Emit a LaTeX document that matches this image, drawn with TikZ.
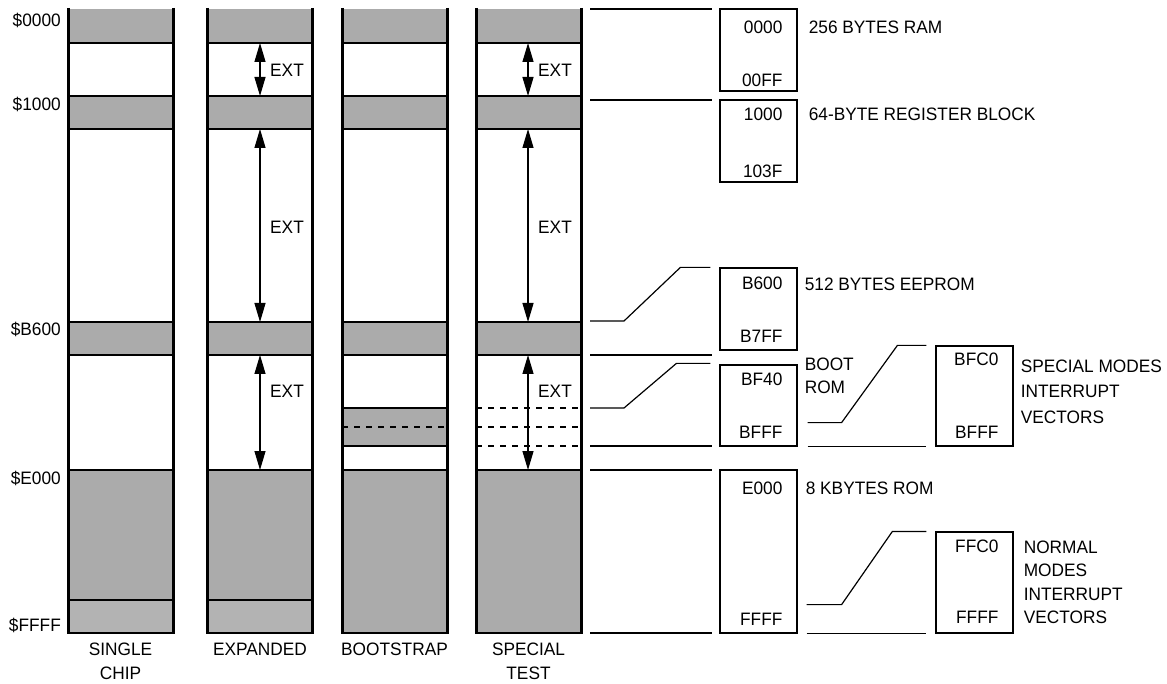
\documentclass[tikz,border=0pt]{standalone}
\usepackage{fontspec}
\setmainfont[FakeStretch=0.96]{Liberation Sans}
\usetikzlibrary{arrows.meta,positioning,calc}
\definecolor{bandGray}{HTML}{ABABAB}
\definecolor{vecGray}{HTML}{B3B3B3}
\newcommand{\memfont}{\fontsize{18}{23.5}\selectfont}
\newcommand{\memfontwide}{\fontsize{18}{25.5}\selectfont}
\tikzset{
  bandLine/.style={line width=1.4pt},
  colWall/.style={line width=3pt},
  dashLine/.style={line width=1.2pt, dash pattern=on 6pt off 6pt},
  extArrow/.style={{Triangle[length=19pt,width=11pt]}-{Triangle[length=19pt,width=11pt]}, line width=1.2pt},
  leaderLine/.style={line width=1.2pt},
  memBox/.style={draw, line width=1.2pt, minimum width=77pt, inner sep=0pt},
  memText/.style={inner sep=0pt, font=\memfont},
  descText/.style={memText, align=left},
}

\begin{document}
\begin{tikzpicture}[x=1pt, y=-1pt]
  \useasboundingbox (0,0) rectangle (1167,684);

  % gray bands of the four memory maps
  \foreach \xl in {68,207,342,476} {
    \foreach \ya/\yb in {9/43,96/129,322/355,470/633}
      \fill[bandGray] (\xl,\ya) rectangle (\xl+105,\yb);
  }
  % vectors band (single chip, expanded)
  \foreach \xl in {68,207} {
    \fill[vecGray] (\xl,600) rectangle (\xl+105,633);
    \draw[bandLine] (\xl,600) -- (\xl+105,600);
  }
  % boot rom (bootstrap) and its ghost (special test)
  \fill[bandGray] (342,408) rectangle (447,446);
  \draw[bandLine] (342,408) -- (447,408) (342,446) -- (447,446);
  \draw[dashLine] (342,427) -- (447,427);
  \foreach \y in {408,427,446}
    \draw[dashLine] (476,\y) -- (581,\y);
  \foreach \xl in {68,207,342,476} {
    \foreach \y in {43,96,129,322,355,470,633}
      \draw[bandLine] (\xl,\y) -- (\xl+105,\y);
    \draw[colWall] (\xl,8) -- (\xl,634) (\xl+105,8) -- (\xl+105,634);
  }

  % external space arrows
  \foreach \xa/\m in {260/exp,528/spec} {
    \draw[extArrow] (\xa,43) -- (\xa,96);
    \draw[extArrow] (\xa,129) -- (\xa,322);
    \draw[extArrow] (\xa,355) -- (\xa,470);
    \node[memText, anchor=west] (ext-\m-a) at (\xa+10,70) {EXT};
    \node[memText, anchor=west] (ext-\m-b) at (\xa+10,227) {EXT};
    \node[memText, anchor=west] (ext-\m-c) at (\xa+10,391) {EXT};
  }

  % addresses and mode names
  \foreach \y/\a in {20/0000,104/1000,329/B600,478/E000,625/FFFF}
    \node[memText, anchor=east] (addr-\a) at (61,\y) {\$\a};
  \node[memText, anchor=north, align=center] (modeSingle) at (120.5,643) {SINGLE\\CHIP};
  \node[memText, anchor=north] (modeExpanded) at (260,643) {EXPANDED};
  \node[memText, anchor=north] (modeBoot) at (394.5,643) {BOOTSTRAP};
  \node[memText, anchor=north, align=center] (modeSpecial) at (528.5,643) {SPECIAL\\TEST};

  % resource boxes
  \node[memBox, minimum height=82pt] (ram) at (758.5,50) {};
  \node[memBox, minimum height=82pt] (reg) at (758.5,141) {};
  \node[memBox, minimum height=82pt] (eeprom) at (758.5,309) {};
  \node[memBox, minimum height=81pt] (bootrom) at (758.5,405.5) {};
  \node[memBox, minimum height=163pt] (rom) at (758.5,551.5) {};
  \node[memBox, minimum height=100pt] (specvec) at (974.5,396) {};
  \node[memBox, minimum height=101pt] (normvec) at (974.5,582.5) {};

  \node[memText, below left=12pt and 15pt of ram.north east] (ram-lo) {0000};
  \node[memText, above left=5pt and 15pt of ram.south east] (ram-hi) {00FF};
  \node[memText, below left=8pt and 15pt of reg.north east] (reg-lo) {1000};
  \node[memText, above left=5pt and 15pt of reg.south east] (reg-hi) {103F};
  \node[memText, below left=9pt and 15pt of eeprom.north east] (eeprom-lo) {B600};
  \node[memText, above left=8pt and 15pt of eeprom.south east] (eeprom-hi) {B7FF};
  \node[memText, below left=8pt and 15pt of bootrom.north east] (bootrom-lo) {BF40};
  \node[memText, above left=8pt and 15pt of bootrom.south east] (bootrom-hi) {BFFF};
  \node[memText, below left=12pt and 15pt of rom.north east] (rom-lo) {E000};
  \node[memText, above left=8pt and 15pt of rom.south east] (rom-hi) {FFFF};
  \node[memText, below left=7pt and 15pt of specvec.north east] (specvec-lo) {BFC0};
  \node[memText, above left=8pt and 15pt of specvec.south east] (specvec-hi) {BFFF};
  \node[memText, below left=8pt and 15pt of normvec.north east] (normvec-lo) {FFC0};
  \node[memText, above left=10pt and 15pt of normvec.south east] (normvec-hi) {FFFF};

  \node[descText, below right=12pt and 11pt of ram.north east] (ram-desc) {256 BYTES RAM};
  \node[descText, below right=8pt and 11pt of reg.north east] (reg-desc) {64-BYTE REGISTER BLOCK};
  \node[descText, below right=10pt and 7pt of eeprom.north east] (eeprom-desc) {512 BYTES EEPROM};
  \node[descText, below right=-7pt and 7pt of bootrom.north east] (bootrom-desc) {BOOT\\ROM};
  \node[descText, below right=12pt and 8pt of rom.north east] (rom-desc) {8 KBYTES ROM};
  \node[descText, font=\memfontwide, below right=14pt and 7pt of specvec.north east] (specvec-desc) {SPECIAL MODES\\INTERRUPT\\VECTORS};
  \node[descText, below right=9pt and 10pt of normvec.north east] (normvec-desc) {NORMAL\\MODES\\INTERRUPT\\VECTORS};

  % leader lines from the special test map
  \coordinate (gap) at (712,0);
  \coordinate (lead-0000) at (590,9);
  \coordinate (lead-1000) at (590,100);
  \coordinate (lead-B600) at (590,321);
  \coordinate (lead-B7FF) at (590,355);
  \coordinate (lead-BF40) at (590,408);
  \coordinate (lead-BFFF) at (590,446);
  \coordinate (lead-E000) at (590,470);
  \coordinate (lead-FFFF) at (590,633);
  \draw[leaderLine] (lead-0000) -- (lead-0000 -| gap);
  \draw[leaderLine] (lead-1000) -- (lead-1000 -| gap);
  \draw[leaderLine] (lead-B600) -- ++(34,0) -- ($(eeprom.north west)+(-39,0)$) -- ($(eeprom.north west)+(-9,0)$);
  \draw[leaderLine] (lead-B7FF) -- (lead-B7FF -| gap);
  \draw[leaderLine] (lead-BF40) -- ++(34,0) -- ($(bootrom.north west)+(-43,-1)$) -- ($(bootrom.north west)+(-9,-1)$);
  \draw[leaderLine] (lead-BFFF) -- (lead-BFFF -| gap);
  \draw[leaderLine] (lead-E000) -- (lead-E000 -| gap);
  \draw[leaderLine] (lead-FFFF) -- (lead-FFFF -| gap);
  \draw[leaderLine] ($(bootrom.south east)+(10,-24)$) -- ++(34,0) -- ($(specvec.north west)+(-38,0)$) -- ($(specvec.north west)+(-9,0)$);
  \draw[leaderLine] ($(bootrom.south east)+(10,0)$) -- ($(specvec.south west)+(-9,0)$);
  \draw[leaderLine] ($(rom.south east)+(9,-29)$) -- ++(35,0) -- ($(normvec.north west)+(-43,0)$) -- ($(normvec.north west)+(-9,0)$);
  \draw[leaderLine] ($(rom.south east)+(9,0)$) -- ($(normvec.south west)+(-9,0)$);
\end{tikzpicture}
\end{document}
